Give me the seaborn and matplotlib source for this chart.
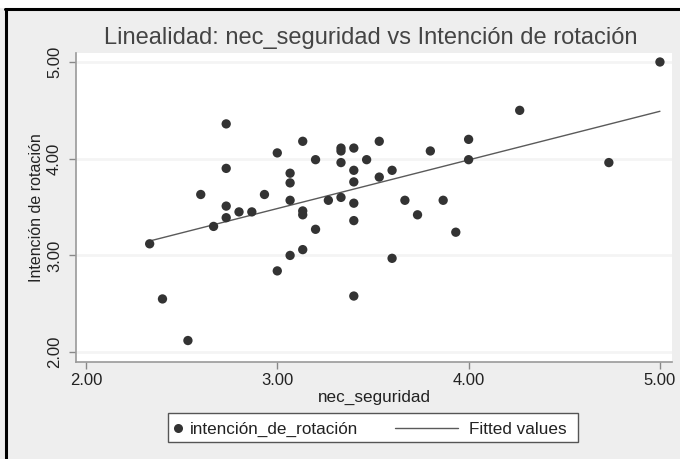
import numpy as np
import pandas as pd
import matplotlib
matplotlib.use("Agg")
import matplotlib.pyplot as plt
from matplotlib.lines import Line2D
from matplotlib.patches import Rectangle
import seaborn as sns

# Observed scores
nec_seguridad = [
    2.333, 2.400, 2.533, 2.600, 2.667, 2.733, 2.733, 2.733, 2.733, 2.800,
    2.867, 2.933, 3.000, 3.000, 3.067, 3.067, 3.067, 3.067, 3.133, 3.133,
    3.133, 3.133, 3.200, 3.200, 3.267, 3.333, 3.333, 3.333, 3.333, 3.400,
    3.400, 3.400, 3.400, 3.400, 3.400, 3.467, 3.533, 3.533, 3.600, 3.600,
    3.667, 3.733, 3.800, 3.867, 3.933, 4.000, 4.000, 4.267, 4.733, 5.000,
]
intencion_de_rotacion = [
    3.12, 2.55, 2.12, 3.63, 3.30, 4.36, 3.90, 3.51, 3.39, 3.45,
    3.45, 3.63, 4.06, 2.84, 3.85, 3.75, 3.57, 3.00, 4.18, 3.46,
    3.42, 3.06, 3.99, 3.27, 3.57, 4.11, 4.08, 3.96, 3.60, 4.11,
    3.88, 3.76, 3.54, 3.36, 2.58, 3.99, 4.18, 3.81, 3.88, 2.97,
    3.57, 3.42, 4.08, 3.57, 3.24, 4.20, 3.99, 4.50, 3.96, 5.00,
]
tick_values = [2.0, 3.0, 4.0, 5.0]
tick_labels = ["2.00", "3.00", "4.00", "5.00"]
legend_labels = ["intención_de_rotación", "Fitted values"]

df = pd.DataFrame({"nec_seguridad": nec_seguridad,
                   "intencion": intencion_de_rotacion})

DOT = "#333333"
FIT = "#5a5a5a"

sns.set_theme(style="white")
plt.rcParams["font.family"] = ["Liberation Sans", "DejaVu Sans"]

W, H = 680, 459
fig = plt.figure(figsize=(W / 100, H / 100), dpi=100)
fig.patch.set_facecolor("#eeeeee")


def fx(px):
    return px / W


def fy(py):
    return 1 - py / H


# page strip and black frame lines
fig.patches.append(Rectangle((0, fy(8)), 1, 8 / H, transform=fig.transFigure,
                             facecolor="white", edgecolor="none", zorder=0))
fig.add_artist(Line2D([fx(5), 1], [fy(8.5)] * 2, transform=fig.transFigure,
                      color="black", lw=2.2))
fig.add_artist(Line2D([fx(6)] * 2, [0, fy(8.5)], transform=fig.transFigure,
                      color="black", lw=2.2))

ax = fig.add_axes([fx(76), fy(362), (672 - 76) / W, (362 - 53) / H])
ax.set_facecolor("white")

sns.scatterplot(data=df, x="nec_seguridad", y="intencion", ax=ax,
                color=DOT, s=45, edgecolor="none", zorder=3)
sns.regplot(data=df, x="nec_seguridad", y="intencion", ax=ax, scatter=False,
            ci=None, color=FIT, line_kws={"lw": 1.0, "zorder": 2})

ax.set_xlim(1.948, 5.063)
ax.set_ylim(1.898, 5.093)
ax.set_xticks(tick_values)
ax.set_xticklabels(tick_labels)
ax.set_yticks(tick_values)
ax.set_yticklabels(tick_labels, rotation=90, va="center")
ax.tick_params(axis="both", direction="out", length=5, width=1, color="#888888",
               labelsize=12, labelcolor="#222222", bottom=True, left=True)
ax.tick_params(axis="x", pad=3)
ax.tick_params(axis="y", pad=5)

for y in tick_values:
    ax.axhline(y, color="#f4f4f4", lw=2, zorder=1)

for side in ("top", "right"):
    ax.spines[side].set_visible(False)
for side in ("left", "bottom"):
    ax.spines[side].set_color("#999999")
    ax.spines[side].set_linewidth(1.2)

ax.set_xlabel("nec_seguridad", fontsize=12.3, color="#222222", labelpad=1)
ax.set_ylabel("Intención de rotación", fontsize=11.5, color="#222222", labelpad=2)

fig.text(fx(371), fy(38), "Linealidad: nec_seguridad vs Intención de rotación",
         ha="center", va="center", fontsize=17, color="#444444")

# legend box below the plot
fig.patches.append(Rectangle((fx(168), fy(442)), (578 - 168) / W, (442 - 413) / H,
                             transform=fig.transFigure, facecolor="white",
                             edgecolor="#555555", lw=1.0, zorder=2))
ly = fy(427.5)
fig.add_artist(Line2D([fx(178)], [ly], transform=fig.transFigure, marker="o",
                      markersize=6.5, markerfacecolor=DOT, markeredgecolor="none",
                      linestyle="none", zorder=3))
fig.text(fx(190), ly, legend_labels[0], ha="left", va="center_baseline",
         fontsize=12.3, color="#222222", zorder=3)
fig.add_artist(Line2D([fx(395), fx(458)], [ly, ly], transform=fig.transFigure,
                      color=FIT, lw=1.0, zorder=3))
fig.text(fx(469), ly, legend_labels[1], ha="left", va="center_baseline",
         fontsize=12.3, color="#222222", zorder=3)

fig.savefig("out.png", dpi=100, facecolor=fig.get_facecolor())
